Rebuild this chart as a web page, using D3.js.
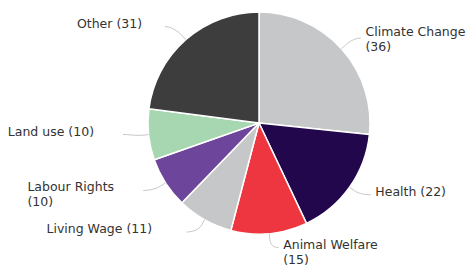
<!DOCTYPE html>
<html>
<head>
<meta charset="utf-8">
<script src="https://cdn.jsdelivr.net/npm/d3@7"></script>
<style>
  html, body { margin: 0; padding: 0; background: #fff; }
  svg { display: block; }
  text { font-family: "DejaVu Sans", sans-serif; font-size: 12.5px; fill: #333; }
</style>
</head>
<body>
<svg id="chart" width="468" height="266"></svg>
<script>
// ---- data ----
const categories = ["Climate Change", "Health", "Animal Welfare", "Living Wage", "Labour Rights", "Land use", "Other"];
const values = [36, 22, 15, 11, 10, 10, 31];
const colors = ["#c6c7c9", "#22074d", "#ee3640", "#c6c7c9", "#6d459a", "#a7d7b0", "#3d3d3d"];

// ---- layout ----
const W = 468, H = 266;
const cx = 259, cy = 123, r = 111;
const labelYRadius = 125, labelXRadius = 134;
// per-label fine tuning: [dx, dy, textDy]
const labelNudge = [[-2.7, -1.4, -1.5], [-1, -0.6, 1], [-30, 0, 2], [5.7, 0, 1], [0, 0, 1], [-2.6, -1.6, 1.5], [1.6, -2.6, 1.2]];
const lineHeight = 14.5, wrapWidth = 112;

const svg = d3.select("#chart");
const g = svg.append("g").attr("transform", `translate(${cx},${cy})`);

const data = categories.map((c, i) => ({ name: c, value: values[i], color: colors[i], i }));
const pie = d3.pie().value(d => d.value).sort(null);
const arcs = pie(data);
const arc = d3.arc().innerRadius(0).outerRadius(r);

g.selectAll("path.slice").data(arcs).enter().append("path")
  .attr("class", "slice")
  .attr("d", arc)
  .attr("fill", d => d.data.color)
  .attr("stroke", "#fff")
  .attr("stroke-width", 1.5)
  .attr("stroke-linejoin", "round");

const lg = svg.append("g");
arcs.forEach(a => {
  const mid = (a.startAngle + a.endAngle) / 2;
  const s = Math.sin(mid), c = Math.cos(mid);
  const left = s < 0;
  const nd = labelNudge[a.index];
  const dy = -labelYRadius * c;
  const ex = cx + (left ? -1 : 1) * Math.sqrt(Math.max(0, labelXRadius * labelXRadius - dy * dy)) + nd[0];
  const ey = cy + dy + nd[1];
  const tx = cx + r * s, ty = cy - r * c;
  const bx = cx + (r + 6) * s, by = cy - (r + 6) * c;
  const path = d3.path();
  path.moveTo(ex, ey);
  path.bezierCurveTo(ex + (left ? 5 : -5), ey, 2 * bx - tx, 2 * by - ty, bx, by);
  path.lineTo(tx, ty);
  lg.append("path").attr("d", path.toString())
    .attr("fill", "none").attr("stroke", "#c8c8c8").attr("stroke-width", 1);

  // label text with wrapping
  const full = `${a.data.name} (${a.data.value})`;
  const t = lg.append("text").attr("y", ey + nd[2]);
  t.append("tspan").attr("x", 0).text(full);
  let lines = [full];
  if (t.node().getComputedTextLength() > wrapWidth) {
    lines = [a.data.name, `(${a.data.value})`];
  }
  t.selectAll("tspan").remove();
  lines.forEach((ln, k) => {
    t.append("tspan").attr("x", 0).attr("dy", k === 0 ? 0 : lineHeight).text(ln);
  });
  const w = t.node().getBBox().width;
  const x0 = left ? ex - 4 - 1.29 * w : ex + 4.5;
  t.attr("x", x0);
  t.selectAll("tspan").attr("x", x0);
});
</script>
</body>
</html>
